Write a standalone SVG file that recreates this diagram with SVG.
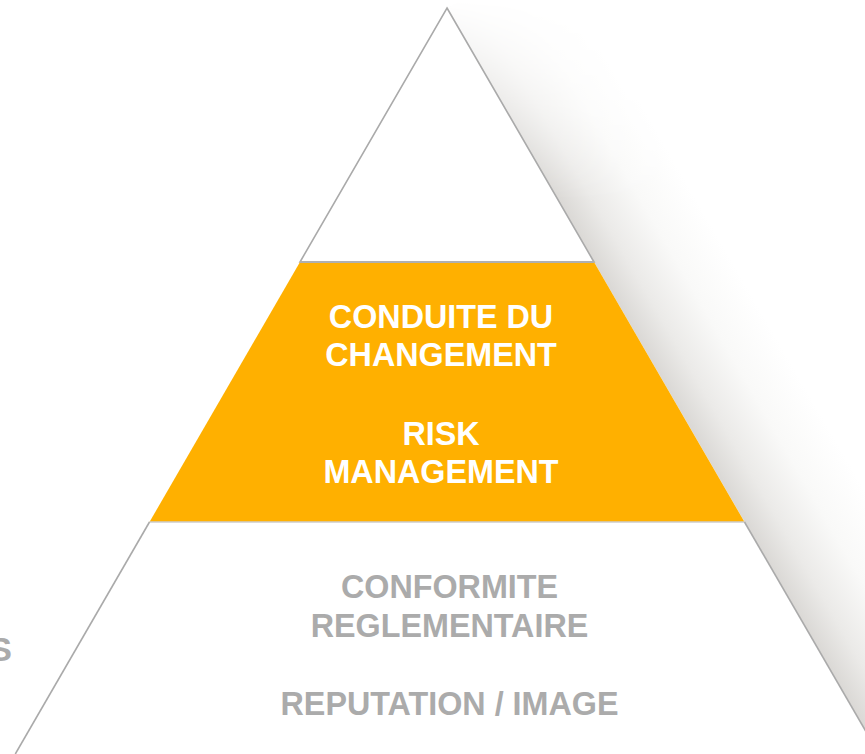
<svg xmlns="http://www.w3.org/2000/svg" width="865" height="754" viewBox="0 0 865 754">
  <defs>
    <linearGradient id="shadowGrad" gradientUnits="userSpaceOnUse" x1="700" y1="445" x2="803.8" y2="384.9">
      <stop offset="0" stop-color="#dad8d5"/>
      <stop offset="0.25" stop-color="#ebeae8"/>
      <stop offset="0.6" stop-color="#f9f9f8"/>
      <stop offset="1" stop-color="#ffffff"/>
    </linearGradient>
    <linearGradient id="fadeGrad" gradientUnits="userSpaceOnUse" x1="0" y1="0" x2="0" y2="200">
      <stop offset="0" stop-color="#000"/>
      <stop offset="1" stop-color="#fff"/>
    </linearGradient>
    <mask id="fadeMask">
      <rect x="0" y="0" width="865" height="754" fill="url(#fadeGrad)"/>
    </mask>
    <style>
      .edge { stroke: #aaaaaa; stroke-width: 1.6; fill: #ffffff; }
      .band { fill: #ffb000; }
      .lbl { font-family: "Liberation Sans", Arial, sans-serif; font-weight: bold; font-size: 32.3px; text-anchor: middle; }
      .white { fill: #ffffff; }
      .grey { fill: #ababab; }
    </style>
  </defs>

  <rect x="0" y="0" width="865" height="754" fill="#ffffff"/>

  <g id="shadow" mask="url(#fadeMask)">
    <polygon points="447,8 879,754 982.8,693.9 550.8,-52.1" fill="url(#shadowGrad)"/>
  </g>

  <g id="top-tier">
    <polygon class="edge" points="447,8 594,262 300,262"/>
  </g>

  <g id="middle-tier">
    <polygon class="band" points="300,262 594,262 744.5,522 149.5,522"/>
    <line x1="300" y1="262" x2="594" y2="262" stroke="#b0b0b0" stroke-width="2"/>
    <text class="lbl white" x="441" y="328">CONDUITE DU</text>
    <text class="lbl white" x="441" y="366">CHANGEMENT</text>
    <text class="lbl white" x="441" y="445">RISK</text>
    <text class="lbl white" x="441" y="483">MANAGEMENT</text>
  </g>

  <g id="bottom-tier">
    <polygon fill="#ffffff" points="149.5,522 744.5,522 879,754 15.3,754"/>
    <line x1="149.5" y1="522" x2="744.5" y2="522" stroke="#cccccc" stroke-width="1.5"/>
    <line x1="149.5" y1="522" x2="15.3" y2="754" stroke="#aaaaaa" stroke-width="1.6"/>
    <line x1="744.5" y1="522" x2="879" y2="754" stroke="#aaaaaa" stroke-width="1.6"/>
    <text class="lbl grey" x="449.5" y="598">CONFORMITE</text>
    <text class="lbl grey" x="449.5" y="637">REGLEMENTAIRE</text>
    <text class="lbl grey" x="449.5" y="715">REPUTATION / IMAGE</text>
  </g>

  <g id="left-fragment">
    <text x="12" y="661" font-family="Liberation Sans, Arial, sans-serif" font-weight="bold" font-size="34" fill="#ababab" text-anchor="end">S</text>
  </g>
</svg>
